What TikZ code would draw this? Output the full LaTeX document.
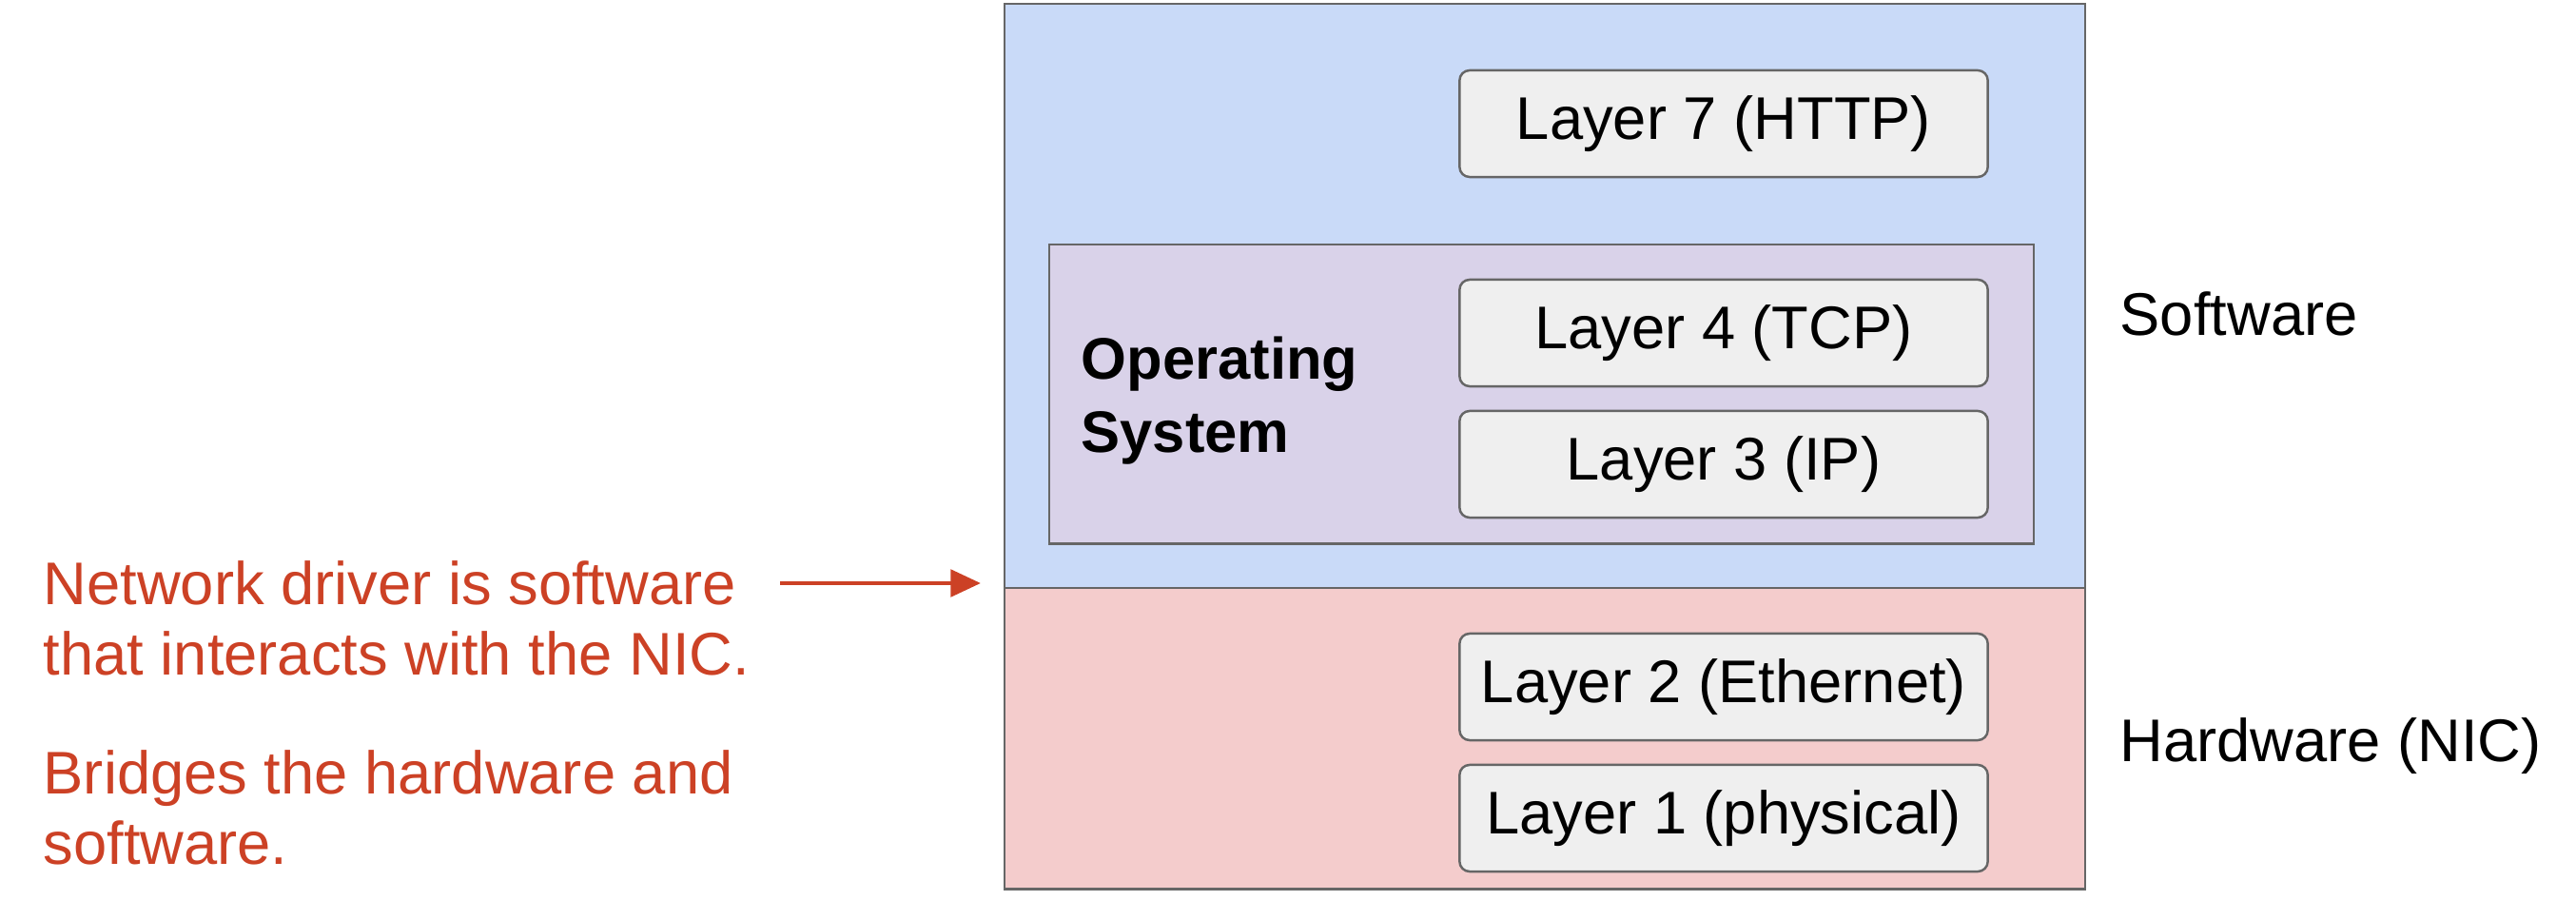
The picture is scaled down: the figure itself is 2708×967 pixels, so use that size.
\documentclass[tikz,border=0pt]{standalone}
\usepackage{fontspec}
\setmainfont{Liberation Sans}
\usetikzlibrary{arrows.meta}

\definecolor{swblue}{HTML}{C9DAF8}
\definecolor{hwpink}{HTML}{F4CCCC}
\definecolor{ospurple}{HTML}{D9D2E9}
\definecolor{layergray}{HTML}{EFEFEF}
\definecolor{edgegray}{HTML}{666666}
\definecolor{notered}{HTML}{CC4125}

\tikzset{
  zone/.style={draw=edgegray, line width=0.7pt, inner sep=0pt, anchor=north west},
  layerbox/.style={draw=edgegray, fill=layergray, line width=0.7pt, rounded corners=3pt,
    minimum width=5.55cm, minimum height=1.12cm, inner sep=0pt},
  sidelabel/.style={anchor=west, inner sep=0pt},
  note/.style={anchor=west, align=left, inner sep=0pt, text=notered,
    font=\fontsize{18}{21}\selectfont}
}

\begin{document}
\begin{tikzpicture}[x=0.01cm, y=-0.01cm, font=\fontsize{18}{22}\selectfont]
  \useasboundingbox (0,0) rectangle (2708,967);

  % Zonas
  \node[zone, fill=swblue, minimum width=11.35cm, minimum height=6.14cm] (swzone) at (1055,3) {};
  \node[zone, fill=hwpink, minimum width=11.35cm, minimum height=3.16cm] (hwzone) at (1055,617) {};
  \node[zone, fill=ospurple, minimum width=10.34cm, minimum height=3.14cm] (oszone) at (1102,256) {};

  % Capas
  \node[layerbox] (l7) at (1812,130) {Layer 7 (HTTP)};
  \node[layerbox] (l4) at (1812,350) {Layer 4 (TCP)};
  \node[layerbox] (l3) at (1812,488) {Layer 3 (IP)};
  \node[layerbox] (l2) at (1812,722) {Layer 2 (Ethernet)};
  \node[layerbox] (l1) at (1812,860) {Layer 1 (physical)};

  % Etiquetas
  \node[sidelabel, align=left, font=\bfseries\fontsize{17.5}{22}\selectfont] (os) at (1136,421) {Operating\\System};
  \node[sidelabel] (sw) at (2228,330) {Software};
  \node[sidelabel] (hw) at (2228,784) {Hardware (NIC)};

  % Nota en rojo
  \node[note] (drv) at (45,650) {Network driver is software\\that interacts with the NIC.};
  \node[note] (bridge) at (45,849) {Bridges the hardware and\\software.};

  % Flecha
  \coordinate (drvtail) at (820,613);
  \coordinate (drvtip) at (1031,613);
  \draw[notered, line width=1.4pt, -{Triangle[length=9pt, width=8pt]}] (drvtail) -- (drvtip);
\end{tikzpicture}
\end{document}
